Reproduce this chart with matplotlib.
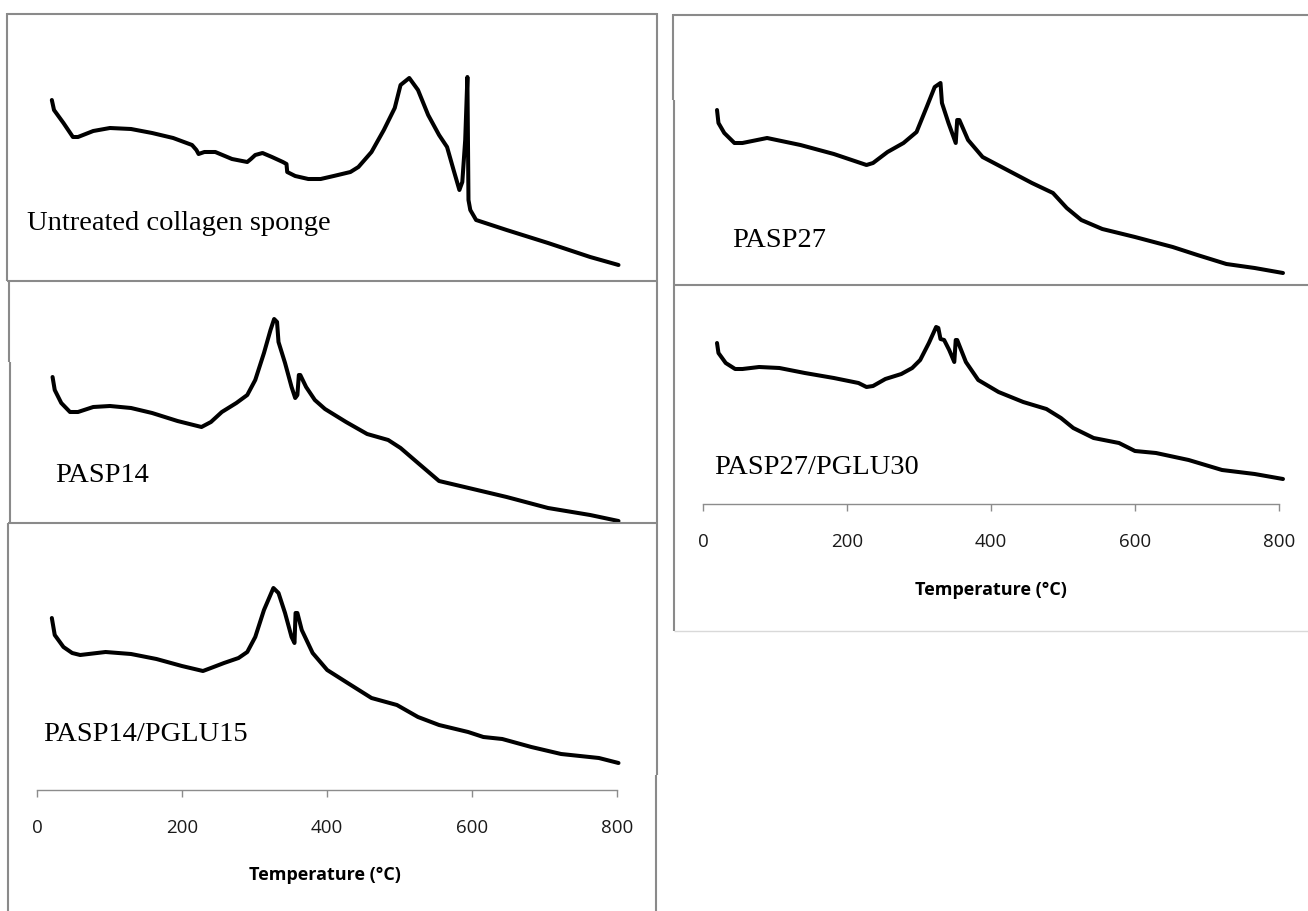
import matplotlib
matplotlib.use("Agg")
import matplotlib.pyplot as plt
from matplotlib.lines import Line2D

# ---------------- data (temperature in degC, DSC heat flow in a.u.) ----------------
untreated_T = [20, 23, 36, 49, 56, 77, 100, 129, 158, 187, 213, 219, 222, 230, 245, 268, 289, 294, 300, 310,
               323, 338, 343, 344, 355, 373, 390, 408, 431, 442, 460, 477, 492, 500, 512, 524, 538, 553, 564, 573,
               581, 585, 589, 592, 593.5, 596, 604, 646, 703, 761, 800]
untreated_H = [181, 171, 158, 144, 144, 150, 153, 152, 148, 143, 136, 131, 127, 129, 129, 122, 119, 122, 126, 128,
               124, 119, 117, 109, 105, 102, 102, 105, 109, 114, 129, 151, 173, 196, 203, 191, 166, 146, 134, 111,
               91, 99, 141, 204, 81, 71, 61, 51, 38, 24, 16]

pasp14_T = [21, 24, 33, 45, 56, 77, 100, 129, 158, 193, 226, 239, 254, 274, 289, 300, 312, 321, 326, 330,
            332, 341, 350, 355, 358, 360, 362, 370, 382, 396, 425, 454, 483, 500, 524, 553, 588, 646, 703, 761, 800]
pasp14_H = [145, 132, 119, 110, 110, 115, 116, 114, 109, 101, 95, 100, 110, 119, 127, 142, 169, 192, 203, 200,
            180, 159, 135, 124, 127, 147, 147, 135, 122, 113, 100, 88, 82, 74, 59, 41, 35, 25, 14, 7, 1]

pasp14_pglu15_T = [20, 24, 36, 48, 59, 94, 129, 164, 199, 228, 239, 257, 277, 289, 300, 312, 325, 332, 341, 350,
                   354, 355.5, 358, 364, 379, 399, 425, 460, 495, 524, 553, 593, 614, 640, 680, 721, 773, 800]
pasp14_pglu15_H = [157, 140, 128, 122, 120, 123, 121, 116, 109, 104, 107, 112, 117, 123, 138, 165, 187, 182, 162, 138,
                   132, 162, 162, 145, 122, 105, 93, 77, 70, 58, 50, 43, 38, 36, 28, 21, 17, 12]

pasp27_T = [20, 22, 30, 44, 55, 89, 135, 181, 226, 235, 255, 277, 295, 309, 320, 328, 330, 339, 349, 351,
            354, 366, 386, 420, 454, 483, 502, 522, 551, 596, 648, 682, 722, 761, 800]
pasp27_H = [175, 162, 152, 142, 142, 147, 140, 131, 120, 122, 133, 142, 153, 178, 198, 202, 182, 162, 142, 165,
            165, 145, 128, 115, 102, 92, 77, 65, 56, 48, 38, 30, 21, 17, 12]

pasp27_pglu30_T = [20, 22, 32, 45, 55, 78, 106, 141, 181, 215, 226, 235, 252, 274, 289, 300, 312, 322, 325, 328,
                   333, 340, 347, 349, 351, 363, 380, 408, 442, 474, 494, 511, 539, 574, 596, 625, 670, 716, 761, 800]
pasp27_pglu30_H = [161, 151, 141, 135, 135, 137, 136, 131, 126, 121, 117, 118, 125, 130, 136, 144, 161, 177, 176, 165,
                   164, 154, 142, 164, 164, 142, 124, 112, 102, 95, 86, 76, 66, 61, 53, 51, 44, 34, 30, 25]

sample_labels = ["Untreated collagen sponge", "PASP14", "PASP14/PGLU15", "PASP27", "PASP27/PGLU30"]
tick_values = [0, 200, 400, 600, 800]
x_label = "Temperature (\u00b0C)"

# ---------------- layout (pixels) ----------------
W, H = 1308, 911
fig = plt.figure(figsize=(W / 100, H / 100), dpi=100)
fig.patch.set_facecolor("white")

BORDER = "#8a8a8a"
LIGHT = "#d9d9d9"


def fx(x):
    return x / W


def fy(y):
    return 1 - y / H


def pline(xs, ys, color=BORDER, lw=1.5):
    fig.add_artist(Line2D([fx(x) for x in xs], [fy(y) for y in ys], color=color, lw=lw,
                          transform=fig.transFigure, solid_capstyle="butt"))


def curve_panel(left, top, right, bottom, x0, k, T, Hv):
    ax = fig.add_axes([fx(left), fy(bottom), (right - left) / W, (bottom - top) / H])
    ax.set_xlim((left - x0) / k, (right - x0) / k)
    ax.set_ylim(0, bottom - top)
    ax.axis("off")
    ax.plot(T, Hv, color="black", lw=2.9, solid_joinstyle="round", solid_capstyle="round", clip_on=False)
    return ax


def temp_axis(left_px, right_px, y_px, pad):
    ax = fig.add_axes([fx(left_px), fy(y_px), (right_px - left_px) / W, 0.0001])
    ax.set_xlim(0, 800)
    ax.set_yticks([])
    for s in ("top", "left", "right"):
        ax.spines[s].set_visible(False)
    ax.spines["bottom"].set_color("#8c8c8c")
    ax.spines["bottom"].set_linewidth(1.0)
    ax.set_xticks(tick_values)
    ax.set_xticklabels([str(v) for v in tick_values], family="Open Sans", fontsize=13.5, color="#1a1a1a")
    ax.tick_params(axis="x", direction="out", length=5, width=1.0, color="#8c8c8c", pad=pad)
    ax.patch.set_alpha(0)
    return ax


# left column curves (px = 37.3 + 0.7265*T)
curve_panel(8, 14, 656, 281, 37.3, 0.7265, untreated_T, untreated_H)
curve_panel(9, 281, 656, 522, 37.3, 0.7265, pasp14_T, pasp14_H)
curve_panel(8, 523, 656, 775, 37.3, 0.7265, pasp14_pglu15_T, pasp14_pglu15_H)
# right column curves (px = 702.5 + 0.7256*T)
curve_panel(674, 15, 1308, 285, 702.5, 0.7256, pasp27_T, pasp27_H)
curve_panel(675, 285, 1308, 504, 702.5, 0.7256, pasp27_pglu30_T, pasp27_pglu30_H)

# temperature axes
temp_axis(37, 617, 790, 16)
temp_axis(703, 1279, 504, 16)

# borders - left column
pline([7, 657], [14, 14])
pline([7, 7], [13.3, 281])
pline([657, 657], [13.3, 775])
pline([7, 657], [281, 281])
pline([9, 9], [281, 362])
pline([9.5, 9.5], [362, 523])
pline([8, 656], [523, 523])
pline([8, 8], [523, 775])
pline([7.5, 7.5], [775, 911])
pline([655.5, 655.5], [775, 911])
# borders - right column
pline([673, 1308], [15, 15])
pline([673, 673], [14.3, 100])
pline([674, 674], [100, 631])
pline([674, 1308], [285, 285])
pline([674, 1308], [631, 631], color=LIGHT, lw=1.0)

# sample labels
serif = ["Liberation Serif", "DejaVu Serif"]
label_pos = [(27, 230), (55, 482), (43, 741), (732, 247), (714, 474)]
for s, (x, y) in zip(sample_labels, label_pos):
    fig.text(fx(x), fy(y), s, family=serif, fontsize=20.5, color="black", va="baseline", ha="left")

# x labels
for (x, y) in [(325, 875), (991, 590)]:
    fig.text(fx(x), fy(y), x_label, family="Open Sans", fontweight="bold", fontsize=13,
             color="black", ha="center", va="center")

fig.savefig("out.png", dpi=100, facecolor="white")
